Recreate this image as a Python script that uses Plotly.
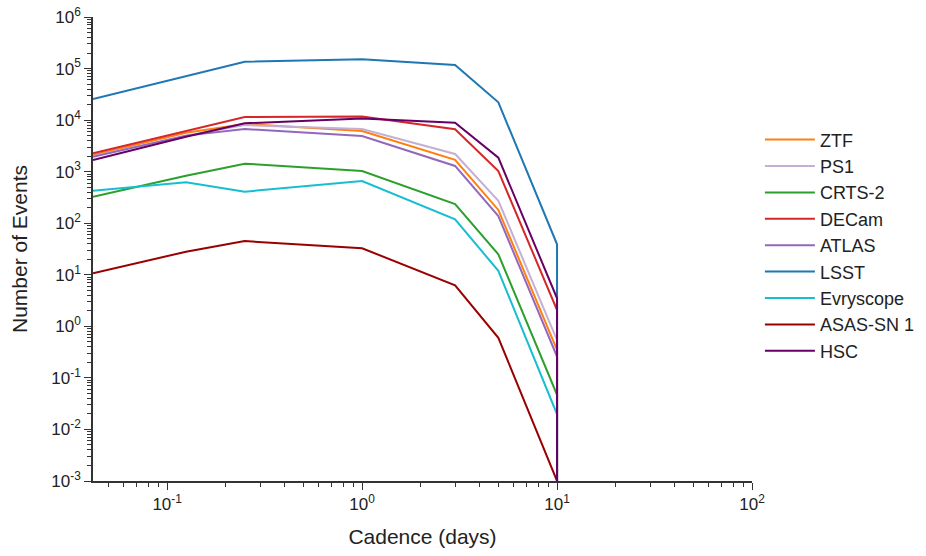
import plotly.graph_objects as go
import math

cadence = [1/24, 0.125, 0.25, 1, 3, 5, 10, 10]

ztf = [2100, 5700, 8400, 6150, 1690, 181, 0.35, 1e-3]
ps1 = [2000, 5000, 8000, 6750, 2200, 273, 0.54, 1e-3]
crts2 = [327, 836, 1430, 1030, 236, 25, 0.047, 1e-3]
decam = [2270, 6240, 11500, 11800, 6640, 1030, 2.07, 1e-3]
atlas = [1950, 5000, 6730, 4920, 1290, 138, 0.26, 1e-3]
lsst = [25700, 71800, 136000, 151000, 117000, 22100, 39, 1e-3]
evryscope = [428, 622, 409, 659, 119, 11.9, 0.0197, 1e-3]
asassn1 = [10.7, 28, 45, 32.7, 6.25, 0.60, 1e-3, 1e-3]
hsc = [1690, 4770, 8670, 10800, 8900, 1870, 3.5, 1e-3]

names = ["ZTF", "PS1", "CRTS-2", "DECam", "ATLAS", "LSST", "Evryscope", "ASAS-SN 1", "HSC"]
series = [ztf, ps1, crts2, decam, atlas, lsst, evryscope, asassn1, hsc]
colors = ["#ff7f0e", "#c5b0d5", "#2ca02c", "#d62728", "#9467bd", "#1f77b4", "#17becf", "#990000", "#660066"]

y_tickvals = [1e-3, 1e-2, 1e-1, 1, 10, 100, 1e3, 1e4, 1e5, 1e6]
y_ticktext = ["10<sup>-3</sup>", "10<sup>-2</sup>", "10<sup>-1</sup>", "10<sup>0</sup>", "10<sup>1</sup>",
              "10<sup>2</sup>", "10<sup>3</sup>", "10<sup>4</sup>", "10<sup>5</sup>", "10<sup>6</sup>"]
x_tickvals = [0.1, 1, 10, 100]
x_ticktext = ["10<sup>-1</sup>", "10<sup>0</sup>", "10<sup>1</sup>", "10<sup>2</sup>"]

def minor_vals(lo, hi):
    return [m * 10.0 ** e for e in range(lo, hi) for m in range(2, 10)]

FONT = "Liberation Sans, Arial"
TXT = "#222222"
AX = "#333333"

fig = go.Figure()
for n, s, c in zip(names, series, colors):
    fig.add_trace(go.Scatter(x=cadence, y=s, name=n, mode="lines",
                             line=dict(color=c, width=2)))

def axis_common(minor_ticks):
    return dict(showline=True, linecolor=AX, linewidth=1.5, showgrid=False, zeroline=False,
                automargin=False,
                ticks="outside", ticklen=7, tickwidth=1.2, tickcolor=AX,
                ticklabeloverflow="allow",
                tickfont=dict(family=FONT, size=17, color=TXT),
                minor=dict(tickmode="array", tickvals=minor_ticks, ticks="outside", ticklen=4,
                           tickwidth=1, tickcolor=AX, showgrid=False))

fig.update_xaxes(type="log", range=[math.log10(1/24), 2], tickvals=x_tickvals, ticktext=x_ticktext,
                 title=dict(text="Cadence (days)", font=dict(family=FONT, size=21, color=TXT), standoff=16),
                 **axis_common(minor_vals(-2, 2)))
fig.update_yaxes(type="log", range=[-3, 6], tickvals=y_tickvals, ticktext=y_ticktext,
                 title=dict(text="Number of Events", font=dict(family=FONT, size=21, color=TXT), standoff=18),
                 **axis_common(minor_vals(-3, 6)))

fig.update_layout(width=926, height=556, plot_bgcolor="white", paper_bgcolor="white",
                  margin=dict(l=93, r=174, t=17, b=75, autoexpand=False),
                  legend=dict(x=1.012, y=0.775, xanchor="left", yanchor="top",
                              font=dict(family=FONT, size=18, color=TXT),
                              tracegroupgap=0, itemwidth=50, bgcolor="rgba(0,0,0,0)"),
                  font=dict(family=FONT))

fig.write_html("out.html", config={"displayModeBar": False},
               post_script="document.body.style.margin='0';")
